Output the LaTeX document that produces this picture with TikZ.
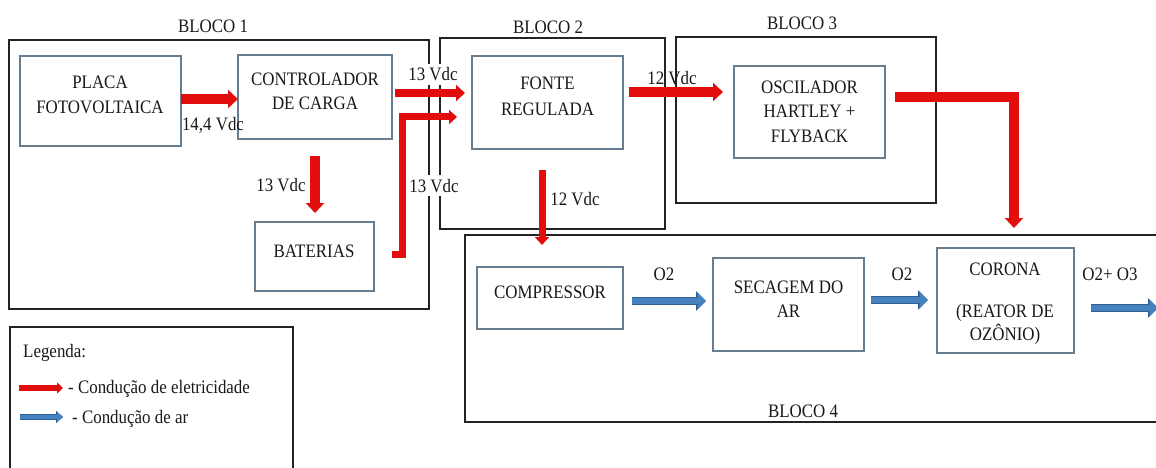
\documentclass[tikz,border=0pt]{standalone}
\usepackage{fontspec}
\setmainfont{Liberation Serif}[FakeStretch=0.89]
\usetikzlibrary{arrows.meta,fit}
\definecolor{elecred}{RGB}{226,14,14}
\definecolor{airblue}{RGB}{70,130,192}
\definecolor{airdark}{RGB}{48,96,146}
\definecolor{boxline}{RGB}{105,125,145}
\definecolor{outline}{RGB}{35,35,35}
\definecolor{txtcol}{RGB}{25,25,25}
\begin{document}
\begin{tikzpicture}[x=1pt,y=-1pt,
  font=\fontsize{19}{25}\selectfont,
  obox/.style={draw=outline, line width=1.3pt, inner sep=0pt, outer sep=0pt},
  ibox/.style={draw=boxline, line width=1.3pt, inner sep=0pt, outer sep=0pt},
  tx/.style={anchor=north, align=center, inner sep=0pt, text=txtcol},
  lbl/.style={anchor=base, inner sep=0pt, text=txtcol},
  lblw/.style={anchor=base west, inner sep=0pt, text=txtcol},
  wlbl/.style={anchor=base, fill=white, inner xsep=1pt, inner ysep=4pt, text=txtcol},
  elecbig/.style={draw=elecred, line width=9.5pt, line join=miter, -{Triangle[length=10pt,width=18pt]}},
  elecmid/.style={draw=elecred, line width=8pt, line join=miter, -{Triangle[length=9pt,width=16pt]}},
  elecsmall/.style={draw=elecred, line width=7pt, line join=miter, -{Triangle[length=8pt,width=14pt]}},
  air/.style={preaction={draw=airdark, line width=8.2pt, -{Triangle[length=10pt,width=19pt]}},
              draw=airblue, line width=6.2pt, -{Triangle[length=8.5pt,width=16pt]}},
  legelec/.style={draw=elecred, line width=5.5pt, -{Triangle[length=6pt,width=11pt]}},
  legair/.style={preaction={draw=airdark, line width=5.5pt, -{Triangle[length=7pt,width=12pt]}},
              draw=airblue, line width=4pt, -{Triangle[length=6pt,width=10pt]}},
]
\path[use as bounding box] (0,0) rectangle (1156,468);
\fill[white] (0,0) rectangle (1156,468);
\clip (0,0) rectangle (1156,468);

% outer blocks
\node[obox, fit={(9,40) (429,309)}] (b1) {};
\node[obox, fit={(440,38) (665,229)}] (b2) {};
\node[obox, fit={(676,37) (936,203)}] (b3) {};
\node[obox, fit={(465,235) (1164,422)}] (b4) {};
\node[obox, fit={(10,327) (293,480)}] (leg) {};

\node[lbl] (b1t) at (213,33) {BLOCO 1};
\node[lbl] (b2t) at (548,34) {BLOCO 2};
\node[lbl] (b3t) at (802,30) {BLOCO 3};
\node[lbl] (b4t) at (803,417) {BLOCO 4};

% inner boxes
\node[ibox, fit={(20,56) (181,146)}] (placa) {};
\node[ibox, fit={(238,55) (392,139)}] (contr) {};
\node[ibox, fit={(255,222) (374,291)}] (bat) {};
\node[ibox, fit={(472,56) (623,149)}] (fonte) {};
\node[ibox, fit={(734,66) (885,158)}] (osc) {};
\node[ibox, fit={(477,267) (623,329)}] (comp) {};
\node[ibox, fit={(713,258) (864,351)}] (sec) {};
\node[ibox, fit={(937,248) (1074,353)}] (cor) {};

% box texts
\node[tx] (placat) at (100,75.6) {PLACA\\FOTOVOLTAICA};
\node[tx, font=\fontsize{19}{24}\selectfont] (contrt) at (315,72.6) {CONTROLADOR\\DE CARGA};
\node[lbl] (batt) at (314,257) {BATERIAS};
\node[tx, font=\fontsize{19}{26}\selectfont] (fontet) at (547.5,76.6) {FONTE\\REGULADA};
\node[tx, font=\fontsize{19}{24.5}\selectfont] (osct) at (809.5,80.6) {OSCILADOR\\HARTLEY +\\FLYBACK};
\node[lbl] (compt) at (550,298) {COMPRESSOR};
\node[tx, font=\fontsize{19}{24}\selectfont] (sect) at (788.5,280.6) {SECAGEM DO\\AR};
\node[lbl] (cort) at (1005,275) {CORONA};
\node[tx, font=\fontsize{19}{23}\selectfont] (cort2) at (1005,303.8) {(REATOR DE\\OZÔNIO)};

% connector labels
\node[lbl] (v144) at (213,131) {14,4 Vdc};
\node[lbl] (v13a) at (281,191) {13 Vdc};
\node[wlbl] (v13b) at (433,81) {13 Vdc};
\node[wlbl] (v13c) at (434,192) {13 Vdc};
\node[lbl] (v12a) at (672,85) {12 Vdc};
\node[lbl] (v12b) at (575,205) {12 Vdc};
\node[lbl] (o2a) at (664,280) {O2};
\node[lbl] (o2b) at (902,280) {O2};
\node[lbl] (o3) at (1110,280) {O2+ O3};

% electrical connectors
\draw[elecbig] (placa.east |- 0,99) -- (contr.west |- 0,99);
\draw[elecmid, shorten <=3pt, shorten >=7pt] (contr.east |- 0,93) -- (fonte.west |- 0,93);
\draw[elecbig, shorten <=17pt, shorten >=9pt] (contr.south) -- (contr.south |- bat.north);
\coordinate (batout) at (392,254);
\draw[elecsmall, shorten >=15pt] (batout) -- ++(10,0) |- (fonte.west |- 0,117);
\draw[elecbig, shorten <=6pt, shorten >=11pt] (fonte.east |- 0,92) -- (osc.west |- 0,92);
\draw[elecsmall, shorten <=21pt, shorten >=22pt] (fonte.south -| 542,0) -- (comp.north -| 542,0);
\draw[elecbig, line width=10pt, shorten <=10pt, shorten >=20pt] (osc.east |- 0,97) -| (cor.north -| 1014,0);

% air connectors
\draw[air, shorten <=9pt, shorten >=7pt] (comp.east |- 0,301) -- (sec.west |- 0,301);
\draw[air, shorten <=7pt, shorten >=9pt] (sec.east |- 0,300) -- (cor.west |- 0,300);
\coordinate (airout) at (1158,308);
\draw[air, shorten <=17pt] (cor.east |- 0,308) -- (airout);

% legend
\node[lblw] (legt) at (23,357) {Legenda:};
\node[lblw] (lege) at (68,393) {- Condução de eletricidade};
\node[lblw] (lega) at (72,423) {- Condução de ar};
\coordinate (le1) at (19,388);
\coordinate (la1) at (20,417);
\draw[legelec, shorten >=5pt] (le1) -- (lege.west |- le1);
\draw[legair, shorten >=9pt] (la1) -- (lega.west |- la1);
\end{tikzpicture}
\end{document}
